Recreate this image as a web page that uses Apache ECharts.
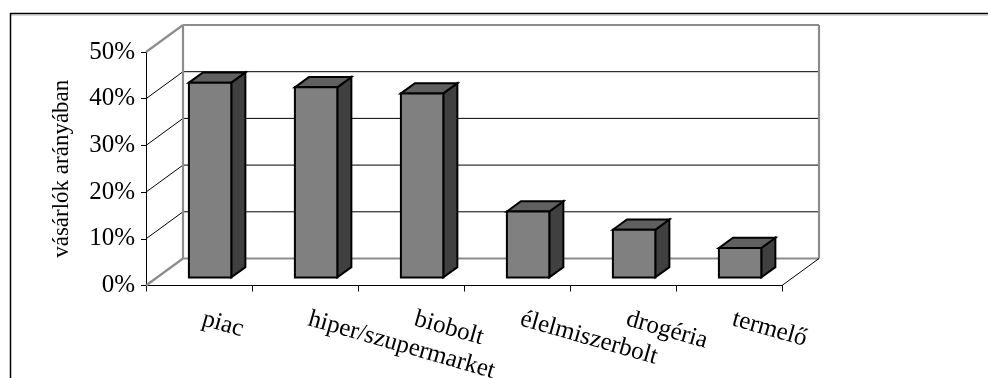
<!DOCTYPE html>
<html>
<head>
<meta charset="utf-8">
<script src="https://cdn.jsdelivr.net/npm/echarts@6/dist/echarts.min.js"></script>
<style>
  html, body { margin: 0; padding: 0; background: #fff; }
  #chart { width: 988px; height: 378px; }
</style>
</head>
<body>
<div id="chart"></div>
<script>
// Where shoppers buy: share of buyers per shop type
const categories = ['piac', 'hiper/szupermarket', 'biobolt', 'élelmiszerbolt', 'drogéria', 'termelő'];
const shares = [41.7, 40.7, 39.4, 14.1, 10.2, 6.3];
const yTicks = [0, 10, 20, 30, 40, 50];
const yAxisTitle = 'vásárlók arányában';

// pseudo-3D depth of the plot box: offset of the back wall from the front plane
const DX = 37, DY = -27;
// bars sit between these depth fractions, and take this share of a category
const BAR_FRONT = 0.3, BAR_BACK = 0.68, BAR_WIDTH = 0.4;

const FONT = "'Liberation Serif', 'Times New Roman', serif";

const chart = echarts.init(document.getElementById('chart'), null, { renderer: 'canvas' });

function wallsRender(params, api) {
  const children = [];
  const yMax = yTicks[yTicks.length - 1];
  const x0 = api.coord([0, 0])[0] - api.size([1, 0])[0] / 2;
  const x1 = api.coord([categories.length - 1, 0])[0] + api.size([1, 0])[0] / 2;
  const gray = { stroke: '#8c8c8c', lineWidth: 2.2 };
  const thin = { stroke: '#000', lineWidth: 1 };
  yTicks.forEach(function (t) {
    const y = api.coord([0, t])[1];
    const edge = (t === 0 || t === yMax);
    // diagonal on the left side wall
    children.push({ type: 'line', shape: { x1: x0, y1: y, x2: x0 + DX, y2: y + DY },
      style: edge ? gray : thin });
    // horizontal line across the back wall
    children.push({ type: 'line', shape: { x1: x0 + DX, y1: y + DY, x2: x1 + DX, y2: y + DY },
      style: edge ? gray : thin });
  });
  const yTop = api.coord([0, yMax])[1];
  const yBot = api.coord([0, 0])[1];
  // vertical edges of the back wall
  children.push({ type: 'line', shape: { x1: x0 + DX, y1: yTop + DY, x2: x0 + DX, y2: yBot + DY }, style: gray });
  children.push({ type: 'line', shape: { x1: x1 + DX, y1: yTop + DY, x2: x1 + DX, y2: yBot + DY }, style: gray });
  // right edge of the floor
  children.push({ type: 'line', shape: { x1: x1, y1: yBot, x2: x1 + DX, y2: yBot + DY }, style: thin });
  return { type: 'group', children: children };
}

function barRender(params, api) {
  const i = api.value(0);
  const v = api.value(1);
  const base = api.coord([i, 0]);
  const top = api.coord([i, v]);
  const w = api.size([1, 0])[0] * BAR_WIDTH;
  const fx = DX * BAR_FRONT, fy = DY * BAR_FRONT;
  const bx = DX * (BAR_BACK - BAR_FRONT), by = DY * (BAR_BACK - BAR_FRONT);
  const L = base[0] + fx - w / 2;
  const R = L + w;
  const T = top[1] + fy;
  const B = base[1] + fy;
  const line = { stroke: '#000', lineWidth: 2, lineJoin: 'miter' };
  return {
    type: 'group',
    children: [
      { type: 'polygon', shape: { points: [[R, T], [R + bx, T + by], [R + bx, B + by], [R, B]] },
        style: Object.assign({ fill: '#404040' }, line) },
      { type: 'polygon', shape: { points: [[L, T], [L + bx, T + by], [R + bx, T + by], [R, T]] },
        style: Object.assign({ fill: '#606060' }, line) },
      { type: 'rect', shape: { x: L, y: T, width: w, height: B - T },
        style: Object.assign({ fill: '#808080' }, line) }
    ]
  };
}

const option = {
  backgroundColor: '#fff',
  animation: false,
  grid: { left: 146, top: 52, width: 636, height: 233.5, outerBoundsMode: 'none', containLabel: false },
  xAxis: {
    type: 'category',
    data: categories,
    boundaryGap: true,
    axisLine: { show: true, lineStyle: { color: '#000', width: 1 } },
    axisTick: { show: true, length: 6, inside: false, alignWithLabel: false, lineStyle: { color: '#000' } },
    axisLabel: {
      interval: 0, rotate: -16, margin: 32, padding: [0, 0, 0, 4],
      color: '#000', fontFamily: FONT, fontSize: 25
    },
    splitLine: { show: false }
  },
  yAxis: {
    type: 'value',
    min: yTicks[0],
    max: yTicks[yTicks.length - 1],
    interval: 10,
    name: yAxisTitle,
    nameLocation: 'middle',
    nameGap: 73,
    nameTextStyle: { color: '#000', fontFamily: FONT, fontSize: 23 },
    axisLine: { show: true, lineStyle: { color: '#000', width: 1 } },
    axisTick: { show: true, length: 5, inside: false, lineStyle: { color: '#000' } },
    axisLabel: { formatter: '{value}%', margin: 11, color: '#000', fontFamily: FONT, fontSize: 25 },
    splitLine: { show: false }
  },
  graphic: [
    // chart frame (top and left edges)
    { type: 'line', shape: { x1: 10, y1: 13.5, x2: 988, y2: 13.5 }, style: { stroke: '#000', lineWidth: 1.5 }, z: 10 },
    { type: 'line', shape: { x1: 10, y1: 15.2, x2: 988, y2: 15.2 }, style: { stroke: '#c8c8c8', lineWidth: 1 }, z: 9 },
    { type: 'line', shape: { x1: 10.5, y1: 13, x2: 10.5, y2: 378 }, style: { stroke: '#000', lineWidth: 1.5 }, z: 10 }
  ],
  series: [
    {
      type: 'custom',
      name: 'walls',
      silent: true,
      z: 1,
      clip: false,
      data: [[0, 0]],
      renderItem: wallsRender
    },
    {
      type: 'custom',
      name: 'vásárlók aránya',
      z: 3,
      clip: false,
      data: shares.map(function (v, i) { return [i, v]; }),
      encode: { x: 0, y: 1 },
      renderItem: barRender
    }
  ]
};

chart.setOption(option);
</script>
</body>
</html>
